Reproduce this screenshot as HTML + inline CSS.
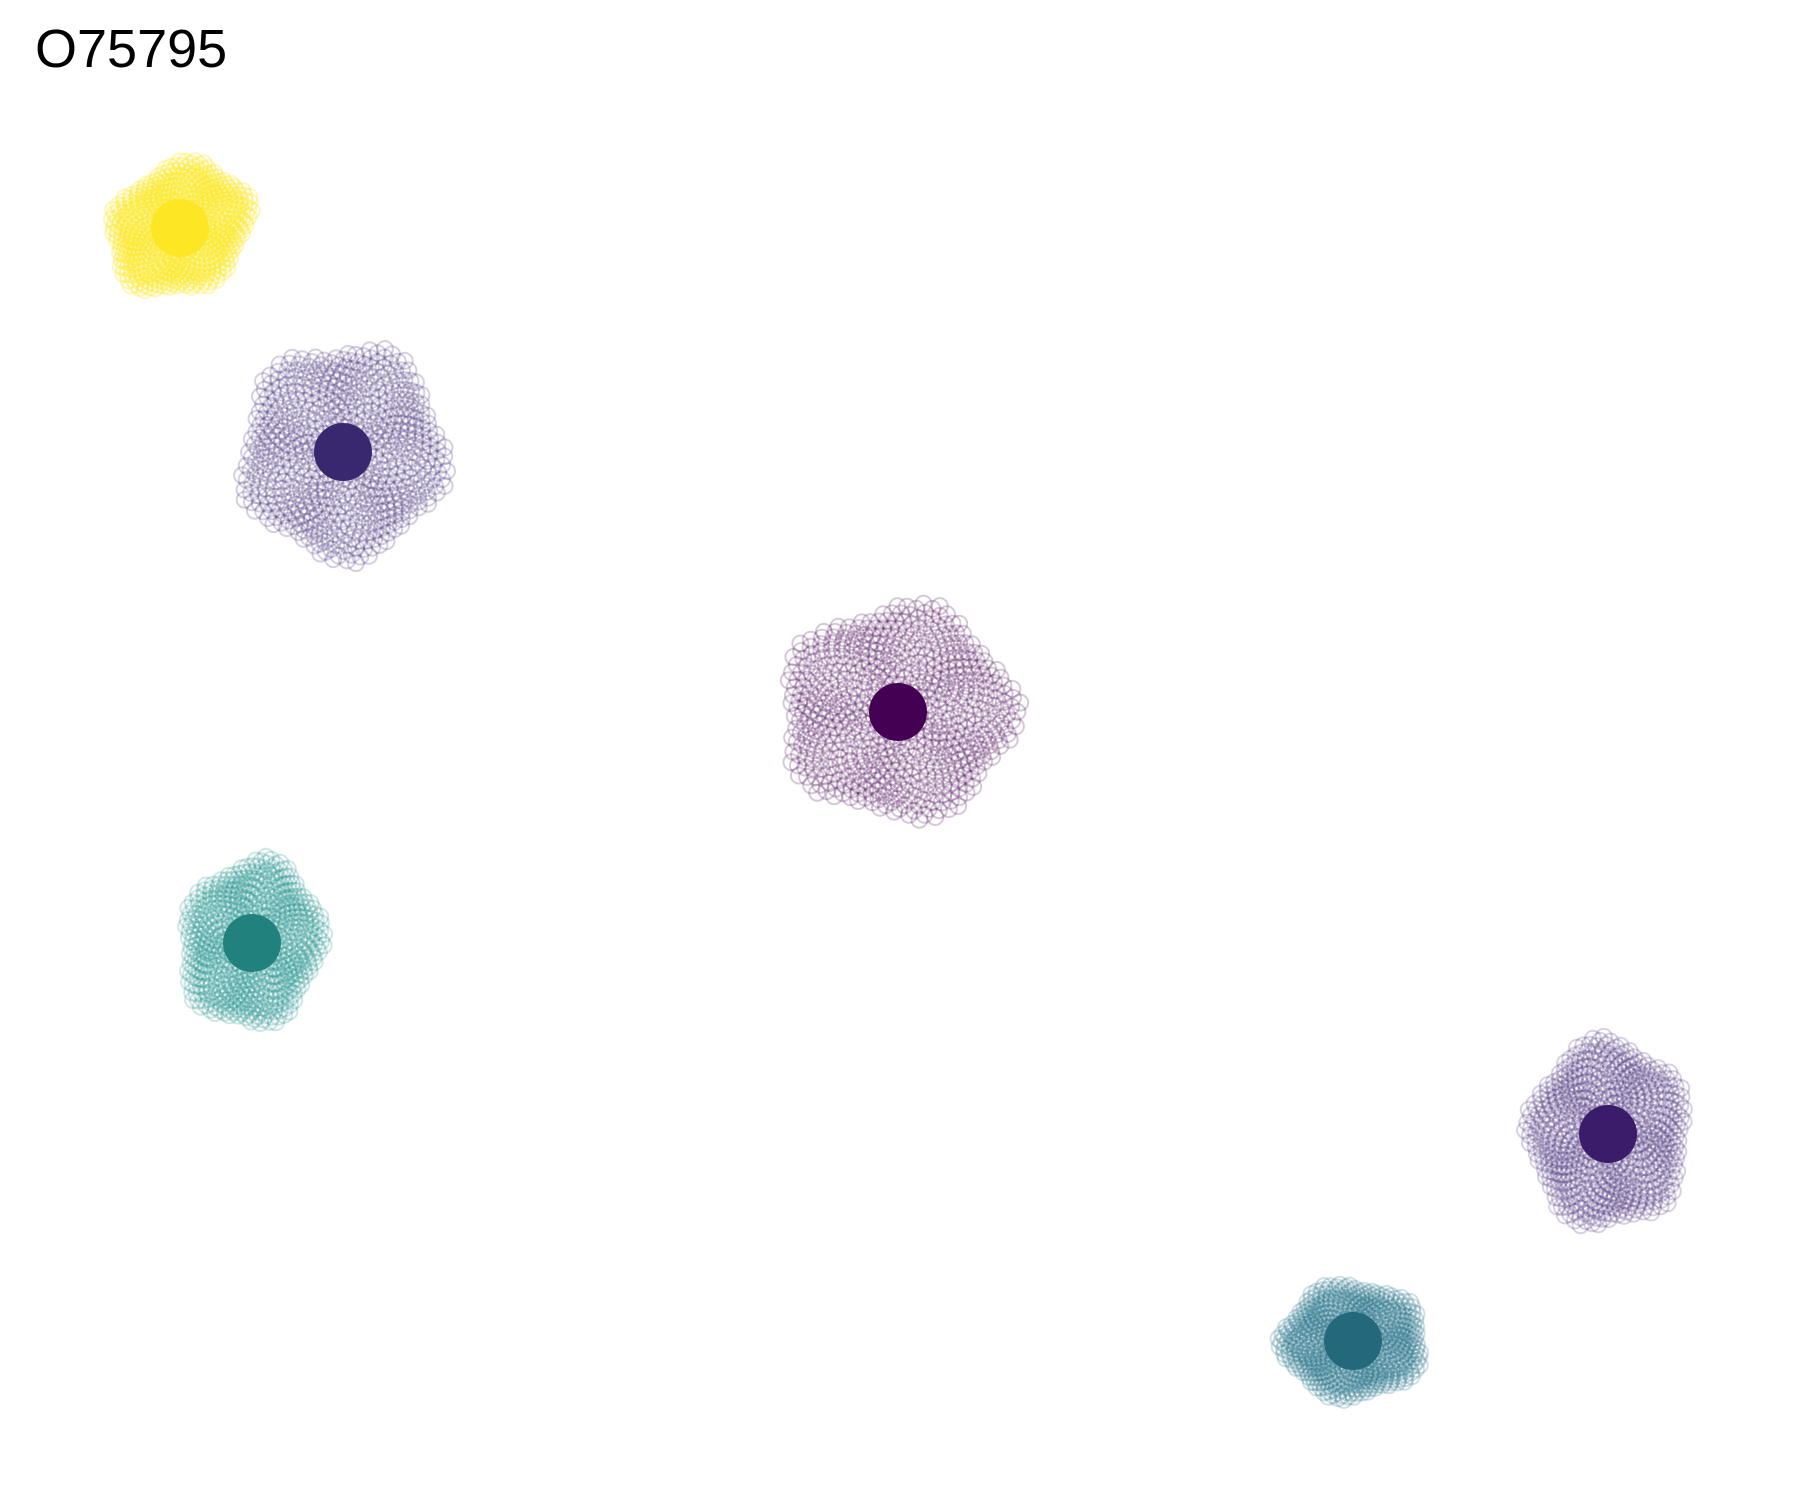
<!DOCTYPE html>
<html><head><meta charset="utf-8"><style>
html,body{margin:0;padding:0;background:#fff;}
svg{display:block;}
</style></head><body>
<svg id="chart" width="1800" height="1500" viewBox="0 0 1800 1500" xmlns="http://www.w3.org/2000/svg">
<text x="35" y="67" font-family="Liberation Sans, Arial, sans-serif" font-size="54" fill="#000">O75795</text>
<g id="points"></g>
<g id="centers"></g>
</svg>
<script>
const clusterNames = ['yellow','purple-a','dark','teal-a','purple-b','teal-b'];
const centerX = [180, 343, 898, 252, 1608, 1353];
const centerY = [228, 452, 712, 943, 1134, 1341];
const spreadX = [72, 100, 115, 68, 78, 70];
const spreadY = [60, 105, 105, 82, 92, 56];
const tilt = [-0.6, 0.1, 0.05, 0.2, 0.0, 0.0];
const colors = ['#fde725', '#3e2a78', '#440154', '#21918c', '#472d7b', '#26728a'];
const centerColors = ['#fde725', '#39286f', '#440154', '#21817d', '#3b1c6b', '#24687c'];

const NS = 'http://www.w3.org/2000/svg';
const pl = document.getElementById('points');
const cl = document.getElementById('centers');
const GA = Math.PI * (3 - Math.sqrt(5));
for (let c = 0; c < clusterNames.length; c++) {
  const n = 600;
  const ct = Math.cos(tilt[c]), st = Math.sin(tilt[c]);
  for (let i = 0; i < n; i++) {
    const r = Math.sqrt((i + 0.5) / n);
    const a = i * GA;
    const wob = 1 + 0.08 * Math.sin(a * 5 + c);
    const dx = r * wob * Math.cos(a) * spreadX[c];
    const dy = r * wob * Math.sin(a) * spreadY[c];
    const el = document.createElementNS(NS, 'circle');
    
    
    el.setAttribute('cx', (centerX[c] + dx * ct - dy * st).toFixed(1));
    el.setAttribute('cy', (centerY[c] + dx * st + dy * ct).toFixed(1));
    el.setAttribute('r', 8);
    el.setAttribute('fill', 'none');
    el.setAttribute('stroke', colors[c]);
    el.setAttribute('stroke-opacity', c === 0 ? 0.3 : 0.22);
    el.setAttribute('stroke-width', 2);
    pl.appendChild(el);
  }
  const cc = document.createElementNS(NS, 'circle');
  
  
  cc.setAttribute('cx', centerX[c]);
  cc.setAttribute('cy', centerY[c]);
  cc.setAttribute('r', 29);
  cc.setAttribute('fill', centerColors[c]);
  cl.appendChild(cc);
}
</script>
</body></html>
